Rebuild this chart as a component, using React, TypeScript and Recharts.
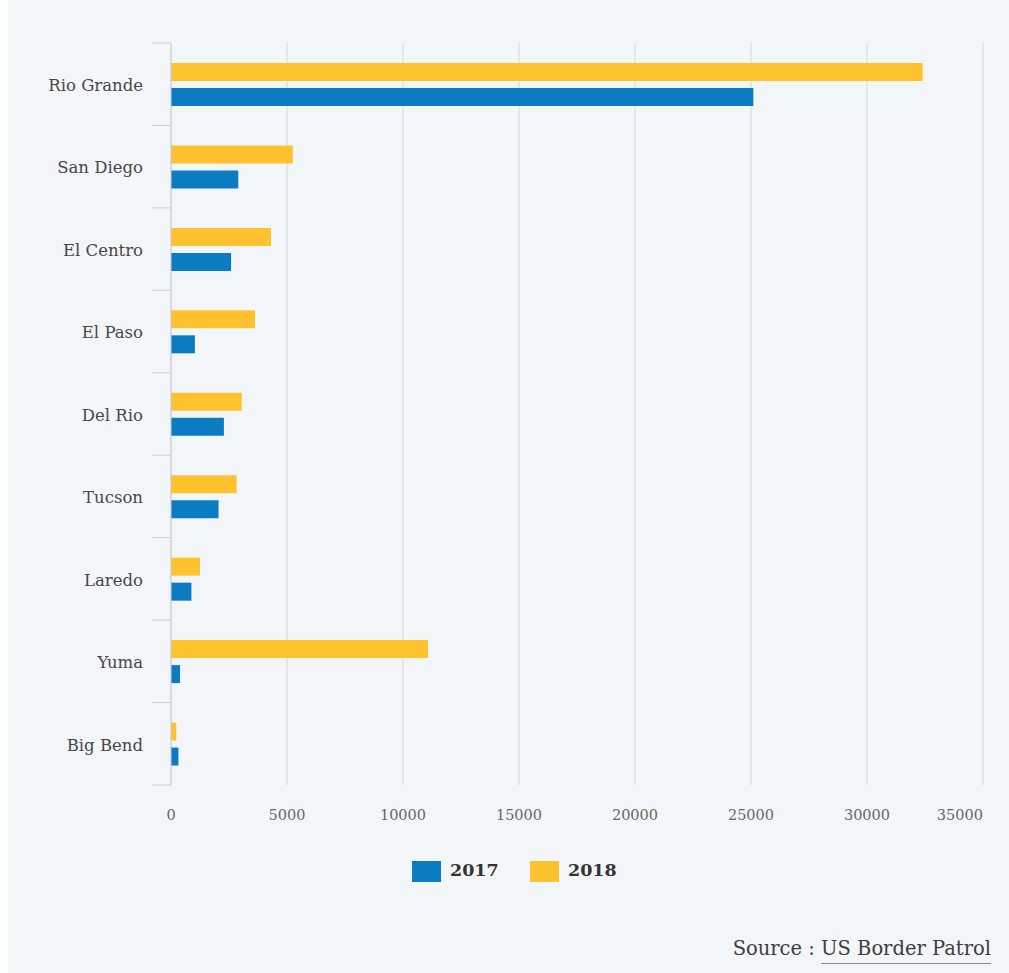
import { Bar, BarChart, CartesianGrid, XAxis, YAxis } from "recharts";

const sectors = [
  "Rio Grande",
  "San Diego",
  "El Centro",
  "El Paso",
  "Del Rio",
  "Tucson",
  "Laredo",
  "Yuma",
  "Big Bend",
];
const y2017 = [25100, 2900, 2590, 1030, 2280, 2050, 880, 390, 320];
const y2018 = [32400, 5250, 4310, 3620, 3050, 2830, 1250, 11080, 230];
const xTicks = [0, 5000, 10000, 15000, 20000, 25000, 30000, 35000];

const BLUE = "#0b7cc1";
const YELLOW = "#fec22f";
const SERIF = "'DejaVu Serif', serif";

const data = sectors.map((name, i) => ({ name, y2017: y2017[i], y2018: y2018[i] }));

function SectorTick(props: any) {
  const { x, y, payload, index } = props;
  const half = payload.offset || 41.2;
  const axisX = x + 8;
  return (
    <g>
      <line x1={axisX - 19} x2={axisX} y1={y - half} y2={y - half} stroke="#c9ced6" />
      {index === sectors.length - 1 && (
        <line x1={axisX - 19} x2={axisX} y1={y + half} y2={y + half} stroke="#c9ced6" />
      )}
      <text
        x={axisX - 28}
        y={y + 1}
        dy="0.35em"
        textAnchor="end"
        fill="#474747"
        fontFamily={SERIF}
        fontSize={16.5}
      >
        {payload.value}
      </text>
    </g>
  );
}

function ValueTick(props: any) {
  const { x, y, payload, index } = props;
  const last = index === xTicks.length - 1;
  return (
    <text
      x={x}
      y={y + 27}
      textAnchor={last ? "end" : "middle"}
      fill="#666"
      fontFamily={SERIF}
      fontSize={14.5}
    >
      {payload.value}
    </text>
  );
}

export default function App() {
  return (
    <div
      style={{
        position: "absolute",
        left: 8,
        top: 0,
        width: 1001,
        height: 973,
        background: "#f3f6f9",
        fontFamily: SERIF,
      }}
    >
      <BarChart
        width={1001}
        height={840}
        data={data}
        layout="vertical"
        margin={{ top: 43, right: 26, left: 0, bottom: 15 }}
        barSize={18}
        barGap={7}
      >
        <CartesianGrid horizontal={false} stroke="#d3d7dd" />
        <XAxis
          type="number"
          domain={[0, 35000]}
          ticks={xTicks}
          axisLine={false}
          tickLine={false}
          height={40}
          tick={<ValueTick />}
          interval={0}
        />
        <YAxis
          type="category"
          dataKey="name"
          width={163}
          axisLine={{ stroke: "#c9ced6" }}
          tickLine={false}
          tick={<SectorTick />}
          interval={0}
        />
        <Bar dataKey="y2018" name="2018" fill={YELLOW} isAnimationActive={false} />
        <Bar dataKey="y2017" name="2017" fill={BLUE} isAnimationActive={false} />
      </BarChart>

      <div style={{ position: "absolute", top: 861, left: 404, width: 29, height: 21, background: BLUE }} />
      <div
        style={{ position: "absolute", top: 860, left: 442, fontSize: 17.5, fontWeight: "bold", color: "#333" }}
      >
        2017
      </div>
      <div style={{ position: "absolute", top: 861, left: 522, width: 29, height: 21, background: YELLOW }} />
      <div
        style={{ position: "absolute", top: 860, left: 560, fontSize: 17.5, fontWeight: "bold", color: "#333" }}
      >
        2018
      </div>

      <div style={{ position: "absolute", top: 937, right: 18, fontSize: 19.5, color: "#3d3d3d" }}>
        Source :{" "}
        <span style={{ borderBottom: "1px solid #8a8a8a", paddingBottom: 3 }}>US Border Patrol</span>
      </div>
    </div>
  );
}
